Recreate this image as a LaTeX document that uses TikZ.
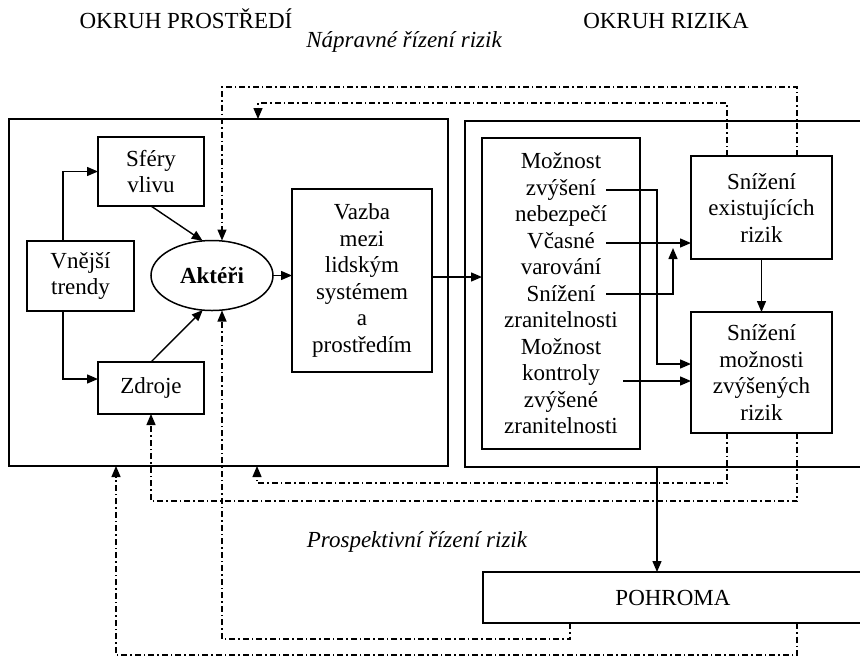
\documentclass[tikz,border=0pt]{standalone}
\usepackage{fontspec}
\setmainfont{Liberation Serif}
\usetikzlibrary{arrows.meta,shapes.geometric,calc}
\begin{document}
\begin{tikzpicture}[x=1pt,y=-1pt,
  every node/.style={font=\fontsize{23}{26.5}\selectfont, inner sep=0pt, outer sep=0pt},
  box/.style={draw, line width=1.5pt, align=center},
  arr/.style={line width=1.4pt, -{Triangle[length=11pt,width=9pt]}},
  dd/.style={line width=1.3pt, dash pattern=on 6pt off 3pt on 1.5pt off 3pt},
  ddarr/.style={dd, -{Triangle[length=11pt,width=9pt]}},
  ital/.style={anchor=base, font=\fontsize{23}{26.5}\selectfont\itshape}]
\useasboundingbox (0,0) rectangle (860,657);
\clip (0,0) rectangle (860,657);

% titles
\node[anchor=base] (t1) at (186,28) {OKRUH PROSTŘEDÍ};
\node[ital] (t2) at (404,47) {Nápravné řízení rizik};
\node[anchor=base] (t3) at (666,28) {OKRUH RIZIKA};
\node[ital] (t4) at (417,547) {Prospektivní řízení rizik};

% frames
\node[box, minimum width=439pt, minimum height=347pt] (env) at (228.5,292.5) {};
\node[box, minimum width=420pt, minimum height=346pt] (risk) at (675,294) {};

% left part
\node[box, minimum width=106pt, minimum height=69pt] (sf) at (151,171.5) {Sféry\\vlivu};
\node[box, minimum width=107pt, minimum height=70pt] (vn) at (80.5,276) {Vnější\\trendy};
\node[draw, ellipse, line width=1.5pt, minimum width=122pt, minimum height=70pt,
      font=\fontsize{23}{26.5}\selectfont\bfseries] (akt) at (212,275.5) {Aktéři};
\node[box, minimum width=106pt, minimum height=52pt] (zd) at (151,388) {Zdroje};
\node[box, minimum width=140pt, minimum height=183pt] (vz) at (362,280.5)
  {Vazba\\mezi\\lidským\\systémem\\a\\prostředím};

% right part
\node[box, minimum width=158pt, minimum height=311pt] (opt) at (561,293.5)
  {Možnost\\zvýšení\\nebezpečí\\Včasné\\varování\\Snížení\\zranitelnosti\\Možnost\\kontroly\\zvýšené\\zranitelnosti};
\node[box, minimum width=141pt, minimum height=103pt] (r1) at (761.5,207.5) {Snížení\\existujících\\rizik};
\node[box, minimum width=141pt, minimum height=121pt] (r2) at (761.5,372.5) {Snížení\\možnosti\\zvýšených\\rizik};
\node[box, minimum width=380pt, minimum height=51pt] (po) at (673,597.5) {POHROMA};

% helper coordinates
\coordinate (s1) at (606,190);
\coordinate (s2) at (606,243);
\coordinate (s3) at (606,294);
\coordinate (s4) at (623,381);
\coordinate (vt) at ([xshift=-17.5pt]vn.north);
\coordinate (vb) at ([xshift=-17.5pt]vn.south);
\coordinate (pa) at ($(po.north)+(-16,0)$);
\coordinate (u1) at (797,87);
\coordinate (u2) at (727,103);
\coordinate (d1) at (797,501);
\coordinate (d2) at (727,483);
\coordinate (b1) at (570,639);
\coordinate (b2) at (797,655);
\coordinate (ea) at ([xshift=249pt]env.north west);
\coordinate (eb) at ([xshift=248pt]env.south west);
\coordinate (ec) at ([xshift=107pt]env.south west);
\coordinate (an) at ([xshift=10pt]akt.north);
\coordinate (as) at ([xshift=10pt]akt.south);

% solid connectors
\draw[arr] (vt) |- (sf.west);
\draw[arr] (vb) |- ([yshift=9pt]zd.west);
\draw[arr] (sf.south) -- (akt.105);
\draw[arr] (zd.north) -- (akt.255);
\draw[arr] (akt.east) -- (akt.east -| vz.west);
\draw[arr] ([yshift=3.5pt]vz.east) -- ([yshift=3.5pt]vz.east -| opt.west);
\draw[arr] (s1) -- ++(51,0) |- ([yshift=8.5pt]r2.west);
\draw[arr] (s2) -- (s2 -| r1.west);
\draw[arr] (s3) -- ++(67,0) -- ++(0,-46);
\draw[arr] (s4) -- (s4 -| r2.west);
\draw[arr] (r1.south) -- (r2.north);
\draw[arr] (pa |- risk.south) -- (pa);

% dash-dot feedback loops
\draw[ddarr] (u1 |- r1.north) -- (u1) -| (an);
\draw[ddarr] (u2 |- r1.north) -- (u2) -| (ea);
\draw[ddarr] (d1 |- r2.south) -- (d1) -| (zd.south);
\draw[ddarr] (d2 |- r2.south) -- (d2) -| (eb);
\draw[ddarr] (b1 |- po.south) -- (b1) -| (as);
\draw[ddarr] (b2 |- po.south) -- (b2) -| (ec);
\end{tikzpicture}
\end{document}
